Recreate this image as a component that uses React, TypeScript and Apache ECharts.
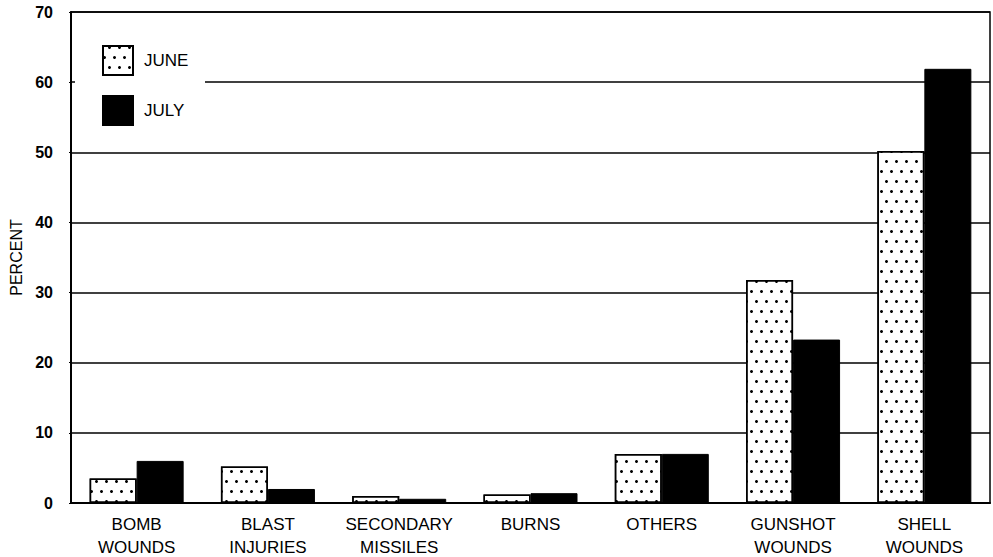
import React, { useEffect, useRef } from "react";
import * as echarts from "echarts";

const categories = [
  "BOMB\nWOUNDS",
  "BLAST\nINJURIES",
  "SECONDARY\nMISSILES",
  "BURNS",
  "OTHERS",
  "GUNSHOT\nWOUNDS",
  "SHELL\nWOUNDS",
];
const juneValues = [3.5, 5.2, 1.0, 1.2, 7.0, 31.8, 50.2];
const julyValues = [6.0, 2.0, 0.6, 1.4, 7.0, 23.3, 61.9];
const seriesNames = ["JUNE", "JULY"];
const yMin = 0;
const yMax = 70;
const yInterval = 10;

const FONT = "'Liberation Sans', Arial, sans-serif";

export default function App() {
  const ref = useRef<HTMLDivElement>(null);
  useEffect(() => {
    if (!ref.current) return;
    const chart = echarts.init(ref.current, undefined, { renderer: "svg" });
    const dotDecal = {
      symbol: "circle",
      symbolSize: 1,
      color: "#000",
      backgroundColor: "#fff",
      dashArrayX: [[2.6, 6.1], [0, 4.35, 2.6, 1.75]],
      dashArrayY: [2.6, 6.1],
      rotation: 0,
    };
    chart.setOption({
      animation: false,
      backgroundColor: "#fff",
      textStyle: { fontFamily: FONT },
      grid: {
        left: 71,
        right: 3,
        top: 12,
        bottom: 54,
        show: true,
        borderColor: "#000",
        borderWidth: 1.5,
        containLabel: false,
        outerBoundsMode: "none",
      },
      legend: {
        orient: "vertical",
        left: 102,
        top: 45,
        padding: 0,
        itemWidth: 30,
        itemHeight: 29,
        itemGap: 19,
        icon: "rect",
        data: seriesNames,
        textStyle: { fontFamily: FONT, fontSize: 17, color: "#000", padding: [0, 0, 0, 6] },
        selectedMode: false,
        z: 10,
      },
      graphic: [
        {
          type: "rect",
          left: 75,
          top: 76,
          shape: { width: 130, height: 14 },
          style: { fill: "#fff" },
          z: 5,
        },
      ],
      xAxis: {
        type: "category",
        data: categories,
        axisLine: { lineStyle: { color: "#000", width: 2 } },
        axisTick: { show: false },
        axisLabel: {
          color: "#000",
          fontFamily: FONT,
          fontSize: 17,
          lineHeight: 23,
          margin: 10,
          interval: 0,
        },
      },
      yAxis: {
        type: "value",
        min: yMin,
        max: yMax,
        interval: yInterval,
        name: "PERCENT",
        nameLocation: "middle",
        nameGap: 47,
        nameRotate: 90,
        nameTextStyle: { color: "#000", fontFamily: FONT, fontSize: 16 },
        axisLine: { show: true, lineStyle: { color: "#000", width: 2 } },
        axisTick: { show: true, length: 2, lineStyle: { color: "#000" } },
        axisLabel: {
          color: "#000",
          fontFamily: FONT,
          fontSize: 16,
          fontWeight: "bold",
          margin: 18,
        },
        splitLine: { show: true, lineStyle: { color: "#000", width: 1.5 } },
      },
      series: [
        {
          name: seriesNames[0],
          type: "bar",
          data: juneValues,
          barWidth: 47,
          barGap: "0%",
          itemStyle: {
            color: "#fff",
            borderColor: "#000",
            borderWidth: 1.5,
            decal: dotDecal,
          },
        },
        {
          name: seriesNames[1],
          type: "bar",
          data: julyValues,
          barWidth: 47,
          barGap: "0%",
          itemStyle: { color: "#000", borderColor: "#000", borderWidth: 1 },
        },
      ],
      aria: { enabled: false, decal: { show: false } },
    });
    return () => chart.dispose();
  }, []);
  return <div ref={ref} style={{ width: 993, height: 557, position: "absolute", left: 0, top: 0 }} />;
}
